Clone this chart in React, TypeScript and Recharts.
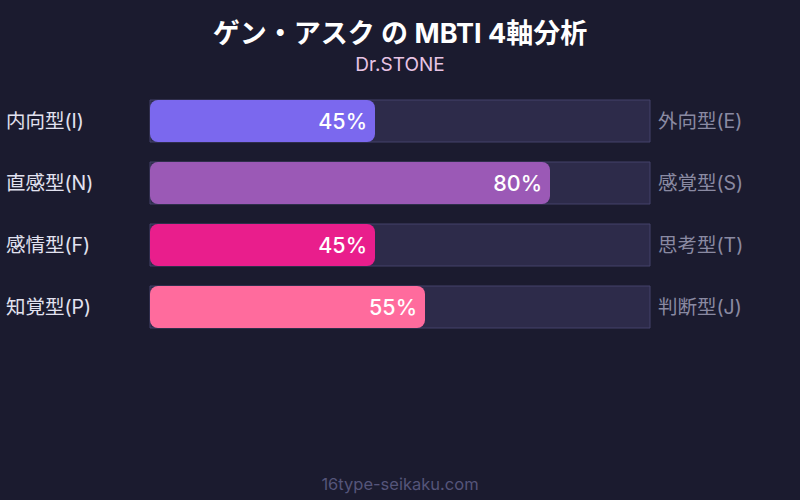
import React from 'react';
import { BarChart, Bar, XAxis, YAxis, LabelList, Cell } from 'recharts';

const leftLabels = ['内向型(I)', '直感型(N)', '感情型(F)', '知覚型(P)'];
const rightLabels = ['外向型(E)', '感覚型(S)', '思考型(T)', '判断型(J)'];
const values = [45, 80, 45, 55];
const colors = ['#7b68ee', '#9b59b6', '#e91e8c', '#ff6b9d'];

const data = leftLabels.map((l, i) => ({ left: l, right: rightLabels[i], value: values[i] }));

const FONT = "Inter, 'Noto Sans CJK JP', sans-serif";

const LeftTick = (props: any) => {
  const { y, payload } = props;
  return (
    <text x={6} y={y} dy={7} textAnchor="start" fill="#e2e2f0" fontSize={19.5} fontFamily={FONT}>
      {payload.value}
    </text>
  );
};

const RightTick = (props: any) => {
  const { y, payload } = props;
  return (
    <text x={658} y={y} dy={7} textAnchor="start" fill="#8a8aa2" fontSize={19.5} fontFamily={FONT}>
      {payload.value}
    </text>
  );
};

export default function App() {
  return (
    <div style={{ width: 800, height: 500, background: '#1b1b2f', position: 'absolute', left: 0, top: 0, fontFamily: FONT }}>
      <BarChart
        width={800}
        height={500}
        data={data}
        layout="vertical"
        margin={{ top: 90, right: 0, bottom: 162, left: 0 }}
      >
        <XAxis type="number" domain={[0, 100]} hide />
        <YAxis yAxisId="l" type="category" dataKey="left" orientation="left" width={150} axisLine={false} tickLine={false} tick={<LeftTick />} />
        <YAxis yAxisId="r" type="category" dataKey="right" orientation="right" width={150} axisLine={false} tickLine={false} tick={<RightTick />} />
        <Bar
          yAxisId="l"
          dataKey="value"
          barSize={42}
          radius={8}
          isAnimationActive={false}
          background={{ fill: '#2d2b4a', stroke: '#45436a', strokeWidth: 1 }}
        >
          {data.map((d, i) => (
            <Cell key={i} fill={colors[i]} />
          ))}
          <LabelList
            dataKey="value"
            position="insideRight"
            offset={8}
            formatter={(v: any) => `${v}%`}
            fill="#ffffff"
            fontSize={21.5}
            fontWeight={500}
            fontFamily={FONT}
          />
        </Bar>
        <text x={400} y={43} textAnchor="middle" fill="#ffffff" fontSize={27} fontWeight={700} fontFamily={FONT}>
          ゲン・アスク の MBTI 4軸分析
        </text>
        <text x={400} y={71} textAnchor="middle" fill="#e8c4e4" fontSize={19} fontFamily={FONT}>
          Dr.STONE
        </text>
        <text x={400} y={490} textAnchor="middle" fill="#55557a" fontSize={16.5} fontFamily={FONT}>
          16type-seikaku.com
        </text>
      </BarChart>
    </div>
  );
}
